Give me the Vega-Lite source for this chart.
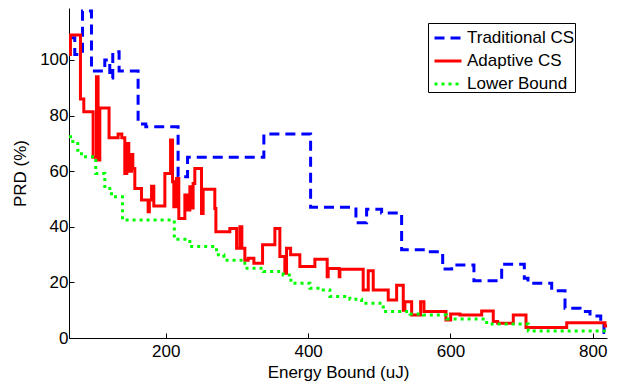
{
  "$schema": "https://vega.github.io/schema/vega-lite/v6.json",
  "width": 538,
  "height": 330,
  "autosize": {"type": "none"},
  "padding": {"left": 69, "top": 8, "right": 16, "bottom": 43},
  "background": "white",
  "config": {
    "view": {"stroke": null},
    "font": "Liberation Sans",
    "axis": {
      "labelFont": "Liberation Sans",
      "titleFont": "Liberation Sans",
      "labelFontSize": 17,
      "titleFontSize": 17,
      "titleFontWeight": "normal",
      "labelColor": "black",
      "titleColor": "black",
      "domainColor": "black",
      "tickColor": "black",
      "grid": false,
      "tickSize": -5,
      "domainWidth": 1,
      "tickWidth": 1
    },
    "legend": {
      "labelFont": "Liberation Sans",
      "labelFontSize": 17,
      "labelColor": "black"
    }
  },
  "data": {
    "values": [
      {"series": "Traditional CS", "x": 64, "y": 108},
      {"series": "Traditional CS", "x": 72.1, "y": 102},
      {"series": "Traditional CS", "x": 83, "y": 117.6},
      {"series": "Traditional CS", "x": 95.6, "y": 96},
      {"series": "Traditional CS", "x": 114.3, "y": 100},
      {"series": "Traditional CS", "x": 121.3, "y": 93.5},
      {"series": "Traditional CS", "x": 125.5, "y": 103},
      {"series": "Traditional CS", "x": 134.4, "y": 96},
      {"series": "Traditional CS", "x": 161.1, "y": 77},
      {"series": "Traditional CS", "x": 171.9, "y": 76},
      {"series": "Traditional CS", "x": 217.3, "y": 58},
      {"series": "Traditional CS", "x": 230.6, "y": 65},
      {"series": "Traditional CS", "x": 337.8, "y": 73.4},
      {"series": "Traditional CS", "x": 403.5, "y": 47},
      {"series": "Traditional CS", "x": 467.2, "y": 41.5},
      {"series": "Traditional CS", "x": 482.2, "y": 46.3},
      {"series": "Traditional CS", "x": 503.3, "y": 45},
      {"series": "Traditional CS", "x": 531.4, "y": 31.7},
      {"series": "Traditional CS", "x": 564.2, "y": 31},
      {"series": "Traditional CS", "x": 589.1, "y": 24.8},
      {"series": "Traditional CS", "x": 601.7, "y": 26.3},
      {"series": "Traditional CS", "x": 633, "y": 20.6},
      {"series": "Traditional CS", "x": 672, "y": 26.5},
      {"series": "Traditional CS", "x": 703.8, "y": 21.5},
      {"series": "Traditional CS", "x": 709, "y": 19.7},
      {"series": "Traditional CS", "x": 742.3, "y": 17},
      {"series": "Traditional CS", "x": 761, "y": 10.7},
      {"series": "Traditional CS", "x": 782.1, "y": 9.5},
      {"series": "Traditional CS", "x": 796.1, "y": 7.9},
      {"series": "Traditional CS", "x": 811.2, "y": 5.3},
      {"series": "Traditional CS", "x": 815.8, "y": 2},
      {"series": "Traditional CS", "x": 820, "y": 2},

      {"series": "Adaptive CS", "x": 64, "y": 102},
      {"series": "Adaptive CS", "x": 66, "y": 109},
      {"series": "Adaptive CS", "x": 80.1, "y": 86},
      {"series": "Adaptive CS", "x": 84.8, "y": 81.4},
      {"series": "Adaptive CS", "x": 97.9, "y": 65},
      {"series": "Adaptive CS", "x": 102.6, "y": 94},
      {"series": "Adaptive CS", "x": 104.9, "y": 64},
      {"series": "Adaptive CS", "x": 107.3, "y": 82.7},
      {"series": "Adaptive CS", "x": 120.3, "y": 72},
      {"series": "Adaptive CS", "x": 133, "y": 73.4},
      {"series": "Adaptive CS", "x": 138.2, "y": 72},
      {"series": "Adaptive CS", "x": 142.4, "y": 59.2},
      {"series": "Adaptive CS", "x": 145.2, "y": 70},
      {"series": "Adaptive CS", "x": 148, "y": 60},
      {"series": "Adaptive CS", "x": 151.8, "y": 66},
      {"series": "Adaptive CS", "x": 153.7, "y": 61},
      {"series": "Adaptive CS", "x": 156.5, "y": 53.8},
      {"series": "Adaptive CS", "x": 165.9, "y": 49.6},
      {"series": "Adaptive CS", "x": 175.2, "y": 45.4},
      {"series": "Adaptive CS", "x": 176.9, "y": 49.6},
      {"series": "Adaptive CS", "x": 180, "y": 54.6},
      {"series": "Adaptive CS", "x": 183.2, "y": 47.5},
      {"series": "Adaptive CS", "x": 198.7, "y": 59.2},
      {"series": "Adaptive CS", "x": 206.7, "y": 71.2},
      {"series": "Adaptive CS", "x": 209.5, "y": 56.2},
      {"series": "Adaptive CS", "x": 211.3, "y": 47.2},
      {"series": "Adaptive CS", "x": 215.1, "y": 57.4},
      {"series": "Adaptive CS", "x": 218.3, "y": 43},
      {"series": "Adaptive CS", "x": 226.8, "y": 51.4},
      {"series": "Adaptive CS", "x": 230.3, "y": 46},
      {"series": "Adaptive CS", "x": 233.8, "y": 54.4},
      {"series": "Adaptive CS", "x": 236.2, "y": 46.8},
      {"series": "Adaptive CS", "x": 238.4, "y": 55.6},
      {"series": "Adaptive CS", "x": 240.8, "y": 61},
      {"series": "Adaptive CS", "x": 250.2, "y": 44.8},
      {"series": "Adaptive CS", "x": 252.5, "y": 53.5},
      {"series": "Adaptive CS", "x": 268.9, "y": 46.6},
      {"series": "Adaptive CS", "x": 270.4, "y": 38.2},
      {"series": "Adaptive CS", "x": 290, "y": 39.4},
      {"series": "Adaptive CS", "x": 299.5, "y": 32.3},
      {"series": "Adaptive CS", "x": 304.1, "y": 40},
      {"series": "Adaptive CS", "x": 306.9, "y": 32.3},
      {"series": "Adaptive CS", "x": 311.1, "y": 28},
      {"series": "Adaptive CS", "x": 315.8, "y": 28.7},
      {"series": "Adaptive CS", "x": 323.8, "y": 26.9},
      {"series": "Adaptive CS", "x": 336, "y": 33.5},
      {"series": "Adaptive CS", "x": 353.3, "y": 39.4},
      {"series": "Adaptive CS", "x": 360.3, "y": 29.3},
      {"series": "Adaptive CS", "x": 367.3, "y": 23.3},
      {"series": "Adaptive CS", "x": 369.7, "y": 32.3},
      {"series": "Adaptive CS", "x": 375.4, "y": 29.9},
      {"series": "Adaptive CS", "x": 388.4, "y": 25.7},
      {"series": "Adaptive CS", "x": 409.5, "y": 28.3},
      {"series": "Adaptive CS", "x": 426.8, "y": 22},
      {"series": "Adaptive CS", "x": 428.2, "y": 25},
      {"series": "Adaptive CS", "x": 443.7, "y": 22},
      {"series": "Adaptive CS", "x": 444.7, "y": 24.7},
      {"series": "Adaptive CS", "x": 477.4, "y": 17.3},
      {"series": "Adaptive CS", "x": 484.5, "y": 24.2},
      {"series": "Adaptive CS", "x": 491.5, "y": 17.3},
      {"series": "Adaptive CS", "x": 512.6, "y": 13.7},
      {"series": "Adaptive CS", "x": 524.4, "y": 19},
      {"series": "Adaptive CS", "x": 533.7, "y": 10},
      {"series": "Adaptive CS", "x": 536, "y": 13},
      {"series": "Adaptive CS", "x": 545.5, "y": 8.3},
      {"series": "Adaptive CS", "x": 558.1, "y": 13},
      {"series": "Adaptive CS", "x": 562.8, "y": 9.5},
      {"series": "Adaptive CS", "x": 593.7, "y": 6.5},
      {"series": "Adaptive CS", "x": 600.3, "y": 8.6},
      {"series": "Adaptive CS", "x": 613.4, "y": 8.3},
      {"series": "Adaptive CS", "x": 643.9, "y": 9.7},
      {"series": "Adaptive CS", "x": 660.2, "y": 5.9},
      {"series": "Adaptive CS", "x": 666.4, "y": 5.3},
      {"series": "Adaptive CS", "x": 688.3, "y": 8.3},
      {"series": "Adaptive CS", "x": 706.2, "y": 3.8},
      {"series": "Adaptive CS", "x": 763.4, "y": 5.5},
      {"series": "Adaptive CS", "x": 817.2, "y": 4.3},
      {"series": "Adaptive CS", "x": 820, "y": 4.3},

      {"series": "Lower Bound", "x": 64, "y": 72.4},
      {"series": "Lower Bound", "x": 69.3, "y": 70},
      {"series": "Lower Bound", "x": 76.3, "y": 67.5},
      {"series": "Lower Bound", "x": 81.5, "y": 65.2},
      {"series": "Lower Bound", "x": 101.6, "y": 59.2},
      {"series": "Lower Bound", "x": 114.3, "y": 53.8},
      {"series": "Lower Bound", "x": 123.7, "y": 50.8},
      {"series": "Lower Bound", "x": 139.2, "y": 42.4},
      {"series": "Lower Bound", "x": 212, "y": 35.5},
      {"series": "Lower Bound", "x": 233.8, "y": 32.9},
      {"series": "Lower Bound", "x": 271.3, "y": 29.9},
      {"series": "Lower Bound", "x": 281.6, "y": 28},
      {"series": "Lower Bound", "x": 311.1, "y": 25.1},
      {"series": "Lower Bound", "x": 336.9, "y": 23.9},
      {"series": "Lower Bound", "x": 365, "y": 22.7},
      {"series": "Lower Bound", "x": 375.8, "y": 19.7},
      {"series": "Lower Bound", "x": 402.5, "y": 17.9},
      {"series": "Lower Bound", "x": 416.5, "y": 17.3},
      {"series": "Lower Bound", "x": 430.6, "y": 14.9},
      {"series": "Lower Bound", "x": 458.7, "y": 13.9},
      {"series": "Lower Bound", "x": 475.2, "y": 12.5},
      {"series": "Lower Bound", "x": 505.6, "y": 9.5},
      {"series": "Lower Bound", "x": 543.1, "y": 8.6},
      {"series": "Lower Bound", "x": 561.8, "y": 8.3},
      {"series": "Lower Bound", "x": 594.7, "y": 6.8},
      {"series": "Lower Bound", "x": 650.9, "y": 5},
      {"series": "Lower Bound", "x": 709.4, "y": 2.5},
      {"series": "Lower Bound", "x": 820, "y": 2.5}
    ]
  },
  "mark": {"type": "line", "interpolate": "step-after", "strokeWidth": 3, "clip": true},
  "encoding": {
    "x": {
      "field": "x",
      "type": "quantitative",
      "scale": {"domain": [64, 820], "nice": false, "zero": false},
      "axis": {"values": [200, 400, 600, 800], "title": "Energy Bound (uJ)", "labelPadding": 10, "titlePadding": 5}
    },
    "y": {
      "field": "y",
      "type": "quantitative",
      "scale": {"domain": [0, 118.7], "nice": false},
      "axis": {"values": [0, 20, 40, 60, 80, 100], "title": "PRD (%)", "labelPadding": 6, "titlePadding": 10}
    },
    "color": {
      "field": "series",
      "type": "nominal",
      "scale": {"domain": ["Traditional CS", "Adaptive CS", "Lower Bound"], "range": ["#0000ff", "#ff0000", "#00ff00"]},
      "legend": {
        "title": null,
        "orient": "none",
        "legendX": 359,
        "legendY": 15,
        "symbolType": "stroke",
        "symbolStrokeWidth": 3,
        "symbolSize": 729,
        "symbolOffset": 5,
        "strokeColor": "black",
        "fillColor": "white",
        "padding": 0,
        "rowPadding": -3,
        "labelOffset": 4,
        "labelLimit": 116
      }
    },
    "strokeDash": {
      "field": "series",
      "type": "nominal",
      "scale": {"domain": ["Traditional CS", "Adaptive CS", "Lower Bound"], "range": [[10, 6], [1, 0], [3, 4]]},
      "legend": {
        "title": null,
        "orient": "none",
        "legendX": 359,
        "legendY": 15,
        "symbolType": "stroke",
        "symbolStrokeWidth": 3,
        "symbolSize": 729,
        "symbolOffset": 5,
        "strokeColor": "black",
        "fillColor": "white",
        "padding": 0,
        "rowPadding": -3,
        "labelOffset": 4,
        "labelLimit": 116
      }
    }
  }
}
